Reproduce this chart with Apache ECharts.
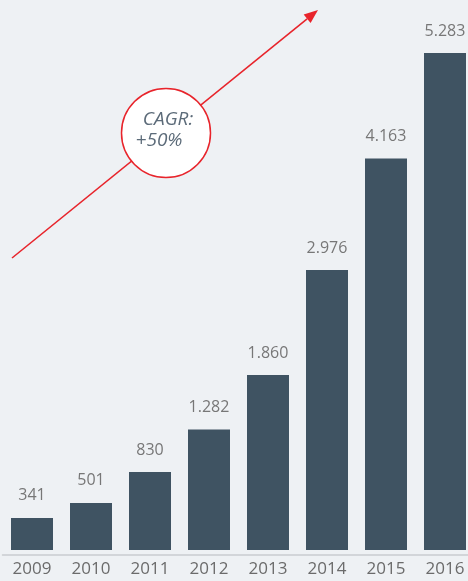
<!DOCTYPE html>
<html>
<head>
<meta charset="utf-8">
<script src="https://cdn.jsdelivr.net/npm/echarts@6/dist/echarts.min.js"></script>
<style>
  html, body { margin: 0; padding: 0; background: #eef1f4; }
  #chart { width: 468px; height: 581px; }
</style>
</head>
<body>
<div id="chart"></div>
<script>
// Yearly totals, 2009–2016
const years = ['2009', '2010', '2011', '2012', '2013', '2014', '2015', '2016'];
const totals = [341, 501, 830, 1282, 1860, 2976, 4163, 5283];

// Thousands separator as a dot (e.g. 1282 -> "1.282")
function fmt(v) {
  return String(v).replace(/\B(?=(\d{3})+(?!\d))/g, '.');
}

// Growth arrow geometry (annotation)
const arrowFrom = [12, 258];
const arrowTip = [318, 10];
const headLen = 14, headHalf = 5.5;
const dx = arrowTip[0] - arrowFrom[0], dy = arrowTip[1] - arrowFrom[1];
const len = Math.hypot(dx, dy);
const ux = dx / len, uy = dy / len;
const base = [arrowTip[0] - headLen * ux, arrowTip[1] - headLen * uy];
const nx = -uy, ny = ux;

const red = '#e8242b';
const textFont = '"Open Sans", "Noto Sans", sans-serif';

const chart = echarts.init(document.getElementById('chart'), null, { renderer: 'canvas' });
chart.setOption({
  backgroundColor: '#eef1f4',
  animation: false,
  grid: {
    left: 2.5, top: 0, width: 472, bottom: 26,
    containLabel: false,
    outerBoundsMode: 'none'
  },
  xAxis: {
    type: 'category',
    data: years,
    axisLine: { onZero: false, lineStyle: { color: '#c9cccf', width: 1.5 } },
    axisTick: { show: false },
    axisLabel: { color: '#6b6b6b', fontSize: 17, fontFamily: textFont, margin: 6 }
  },
  yAxis: {
    type: 'value',
    // a small negative floor leaves a gap between the bar bases and the axis line
    min: -53,
    max: 5847,
    show: false,
    splitLine: { show: false }
  },
  series: [{
    type: 'bar',
    data: totals,
    barWidth: 42,
    itemStyle: { color: '#3f5362' },
    label: {
      show: true,
      position: 'top',
      distance: 14,
      color: '#777777',
      fontSize: 16,
      fontFamily: textFont,
      formatter: p => fmt(p.value)
    }
  }],
  graphic: [
    {
      type: 'line',
      z: 10,
      shape: { x1: arrowFrom[0], y1: arrowFrom[1], x2: base[0], y2: base[1] },
      style: { stroke: red, lineWidth: 1.6 }
    },
    {
      type: 'polygon',
      z: 10,
      shape: {
        points: [
          arrowTip,
          [base[0] + headHalf * nx, base[1] + headHalf * ny],
          [base[0] - headHalf * nx, base[1] - headHalf * ny]
        ]
      },
      style: { fill: red }
    },
    {
      type: 'circle',
      z: 11,
      shape: { cx: 166, cy: 133, r: 44.5 },
      style: { fill: '#ffffff', stroke: red, lineWidth: 1.5 }
    },
    {
      type: 'text',
      z: 12,
      x: 168,
      y: 120,
      style: {
        text: 'CAGR:',
        fill: '#5c6b79',
        font: 'italic 19px ' + textFont,
        align: 'center',
        verticalAlign: 'middle'
      }
    },
    {
      type: 'text',
      z: 12,
      x: 159,
      y: 141,
      style: {
        text: '+50%',
        fill: '#5c6b79',
        font: 'italic 19px ' + textFont,
        align: 'center',
        verticalAlign: 'middle'
      }
    }
  ]
});
</script>
</body>
</html>
